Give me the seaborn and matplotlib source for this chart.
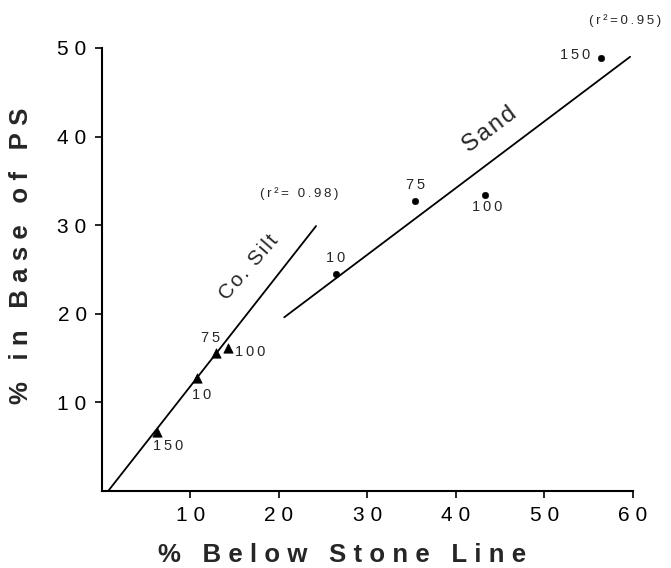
import matplotlib
matplotlib.use('Agg')
import matplotlib.pyplot as plt
import seaborn as sns
import pandas as pd

# Co. Silt points (triangles) and Sand points (circles)
silt_labels = ['150', '10', '75', '100']
silt_x = [6.2, 10.7, 12.9, 14.3]
silt_y = [6.7, 12.8, 15.6, 16.1]

sand_labels = ['10', '75', '100', '150']
sand_x = [26.4, 35.4, 43.3, 56.4]
sand_y = [24.5, 32.7, 33.4, 48.9]

# regression lines (endpoints)
silt_line_x = [0.7, 24.2]
silt_line_y = [0.0, 29.9]
sand_line_x = [20.6, 59.7]
sand_line_y = [19.6, 49.0]

x_ticks = [10, 20, 30, 40, 50, 60]
y_ticks = [10, 20, 30, 40, 50]


def sp(s, gap='\u2009'):
    # the original typesetting is letter-spaced
    return gap.join(s)


sns.set_style('ticks')
plt.rcParams['font.family'] = ['Liberation Sans', 'DejaVu Sans']

fig = plt.figure(figsize=(6.71, 5.68), dpi=100)
ax = fig.add_axes([0.152, 0.1356, 0.791, 0.78])

silt = pd.DataFrame({'x': silt_x, 'y': silt_y, 'lab': silt_labels})
sand = pd.DataFrame({'x': sand_x, 'y': sand_y, 'lab': sand_labels})

sns.lineplot(x=silt_line_x, y=silt_line_y, ax=ax, color='black', lw=1.3)
sns.lineplot(x=sand_line_x, y=sand_line_y, ax=ax, color='black', lw=1.3)
sns.scatterplot(data=silt, x='x', y='y', ax=ax, marker='^', s=45,
                color='black', edgecolor='black', zorder=3)
sns.scatterplot(data=sand, x='x', y='y', ax=ax, marker='o', s=22,
                color='black', edgecolor='black', zorder=3)

# point labels
silt_off = [(-0.4, -0.8, 'left', 'top'), (-0.5, -1.2, 'left', 'top'),
            (-0.6, 0.9, 'center', 'bottom'), (0.7, -0.4, 'left', 'center')]
for (_, r), (dx, dy, ha, va) in zip(silt.iterrows(), silt_off):
    ax.text(r.x + dx, r.y + dy, sp(r.lab), ha=ha, va=va, fontsize=10.5)

sand_off = [(0.0, 1.0, 'center', 'bottom'), (0.0, 1.0, 'center', 'bottom'),
            (0.3, -0.6, 'center', 'top'), (-1.2, 0.3, 'right', 'center')]
for (_, r), (dx, dy, ha, va) in zip(sand.iterrows(), sand_off):
    ax.text(r.x + dx, r.y + dy, sp(r.lab), ha=ha, va=va, fontsize=10.5)

ax.text(16.6, 25.2, sp('Co. Silt', '\u200a'), rotation=49, fontsize=15,
        ha='center', va='center')
ax.text(43.8, 40.8, sp('Sand', '\u200a'), rotation=37, fontsize=17,
        ha='center', va='center')
ax.text(22.3, 33.6, sp('(r²= 0.98)'), fontsize=9.5, ha='center', va='center')
ax.text(59.1, 53.1, sp('(r²=0.95)'), fontsize=9.5, ha='center', va='center',
        clip_on=False)

ax.set_xlim(0, 60)
ax.set_ylim(0, 50)
ax.set_xticks(x_ticks)
ax.set_yticks(y_ticks)
ax.set_xticklabels([sp(str(t), '\u2009\u200a') for t in x_ticks])
ax.set_yticklabels([sp(str(t), '\u2009\u200a') for t in y_ticks])
ax.tick_params(labelsize=15, length=5, width=1.2, colors='black', pad=6)
sns.despine(ax=ax)
for s in ['left', 'bottom']:
    ax.spines[s].set_linewidth(1.5)
    ax.spines[s].set_color('black')

ax.set_xlabel(sp('% Below Stone Line', '\u2009\u200a'), fontsize=18.5,
              fontweight='bold')
ax.set_ylabel(sp('% in Base of PS', '\u2009\u200a'), fontsize=18.5,
              fontweight='bold')
ax.xaxis.set_label_coords(0.452, -0.118)
ax.yaxis.set_label_coords(-0.13, 0.53)

fig.savefig('out.png', dpi=100)
